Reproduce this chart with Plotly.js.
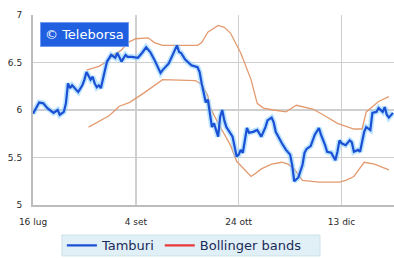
<!DOCTYPE html>
<html>
<head>
<meta charset="utf-8">
<script src="https://cdn.plot.ly/plotly-3.0.1.min.js"></script>
<style>html,body{margin:0;padding:0;background:#fff;}#chart{width:394px;height:258px;}</style>
</head>
<body>
<div id="chart"></div>
<script>
var tamburiDates = ['2018-07-16','2018-07-19','2018-07-21','2018-07-23','2018-07-26','2018-07-28','2018-07-29','2018-07-31','2018-08-01','2018-08-02','2018-08-03','2018-08-04','2018-08-07','2018-08-09','2018-08-10','2018-08-11','2018-08-13','2018-08-14','2018-08-15','2018-08-16','2018-08-17','2018-08-18','2018-08-20','2018-08-21','2018-08-23','2018-08-25','2018-08-26','2018-08-28','2018-08-30','2018-08-31','2018-09-02','2018-09-05','2018-09-07','2018-09-09','2018-09-11','2018-09-13','2018-09-16','2018-09-17','2018-09-20','2018-09-22','2018-09-24','2018-09-25','2018-09-26','2018-09-28','2018-09-29','2018-10-01','2018-10-04','2018-10-05','2018-10-06','2018-10-07','2018-10-08','2018-10-09','2018-10-10','2018-10-11','2018-10-12','2018-10-14','2018-10-15','2018-10-16','2018-10-17','2018-10-18','2018-10-21','2018-10-23','2018-10-24','2018-10-25','2018-10-26','2018-10-28','2018-10-29','2018-10-31','2018-11-02','2018-11-03','2018-11-04','2018-11-06','2018-11-07','2018-11-09','2018-11-10','2018-11-11','2018-11-13','2018-11-14','2018-11-16','2018-11-18','2018-11-19','2018-11-20','2018-11-22','2018-11-24','2018-11-25','2018-11-26','2018-11-28','2018-11-30','2018-12-02','2018-12-03','2018-12-05','2018-12-06','2018-12-08','2018-12-10','2018-12-11','2018-12-12','2018-12-13','2018-12-15','2018-12-17','2018-12-18','2018-12-19','2018-12-21','2018-12-22','2018-12-23','2018-12-24','2018-12-25','2018-12-27','2018-12-28','2018-12-30','2018-12-31','2019-01-02','2019-01-03','2019-01-04','2019-01-05','2019-01-07'];
var tamburiValues = [5.96,6.08,6.07,6.02,5.97,6.00,5.95,5.98,6.07,6.28,6.23,6.26,6.19,6.26,6.32,6.40,6.32,6.35,6.28,6.24,6.26,6.23,6.42,6.51,6.58,6.55,6.60,6.51,6.58,6.56,6.56,6.55,6.60,6.66,6.61,6.53,6.39,6.42,6.49,6.58,6.68,6.61,6.60,6.53,6.51,6.47,6.45,6.40,6.28,6.16,6.08,6.11,5.97,5.82,5.86,5.72,5.93,6.00,5.89,5.82,5.72,5.51,5.53,5.58,5.55,5.81,5.76,5.77,5.79,5.76,5.72,5.82,5.89,5.92,5.87,5.77,5.68,5.65,5.58,5.53,5.42,5.25,5.29,5.42,5.55,5.59,5.62,5.74,5.81,5.74,5.63,5.56,5.55,5.47,5.56,5.68,5.65,5.63,5.68,5.66,5.56,5.58,5.56,5.68,5.77,5.82,5.79,5.97,5.98,6.02,5.98,6.03,5.95,5.92,5.97];

var upperDates = ['2018-08-11','2018-08-17','2018-08-21','2018-08-24','2018-08-28','2018-08-31','2018-09-04','2018-09-10','2018-09-13','2018-09-17','2018-10-04','2018-10-06','2018-10-09','2018-10-14','2018-10-17','2018-10-20','2018-10-25','2018-10-30','2018-11-02','2018-11-05','2018-11-10','2018-11-16','2018-11-21','2018-11-29','2018-12-04','2018-12-11','2018-12-19','2018-12-23','2018-12-25','2018-12-31','2019-01-05'];
var upperValues = [6.42,6.46,6.51,6.58,6.63,6.71,6.75,6.76,6.71,6.68,6.68,6.71,6.82,6.89,6.87,6.81,6.60,6.32,6.07,6.02,6.00,5.98,6.05,6.01,5.95,5.86,5.80,5.80,5.98,6.09,6.14];

var lowerDates = ['2018-08-12','2018-08-22','2018-08-27','2018-09-01','2018-09-08','2018-09-13','2018-09-17','2018-10-03','2018-10-06','2018-10-09','2018-10-10','2018-10-14','2018-10-17','2018-10-20','2018-10-23','2018-10-27','2018-10-30','2018-11-01','2018-11-04','2018-11-09','2018-11-14','2018-11-17','2018-11-20','2018-11-24','2018-12-02','2018-12-12','2018-12-15','2018-12-19','2018-12-24','2018-12-29','2019-01-05'];
var lowerValues = [5.82,5.94,6.04,6.08,6.18,6.26,6.32,6.31,6.27,6.15,6.03,5.86,5.74,5.63,5.46,5.37,5.30,5.33,5.38,5.43,5.45,5.43,5.38,5.26,5.24,5.24,5.26,5.30,5.45,5.43,5.37];

var xTickVals = ['2018-07-16','2018-09-04','2018-10-24','2018-12-13'];
var xTickText = ['16 lug','4 set','24 ott','13 dic'];
var yTickVals = [5, 5.5, 6, 6.5, 7];
var yTickText = ['5','5.5','6','6.5','7'];

var bandColor = '#e39a6e';
var traces = [
  {x: upperDates, y: upperValues, type: 'scatter', mode: 'lines', line: {color: bandColor, width: 1.3}, showlegend: false, hoverinfo: 'skip'},
  {x: lowerDates, y: lowerValues, type: 'scatter', mode: 'lines', line: {color: bandColor, width: 1.3}, showlegend: false, hoverinfo: 'skip'},
  {x: tamburiDates, y: tamburiValues, type: 'scatter', mode: 'lines', line: {color: 'rgba(130,205,255,0.55)', width: 5.5}, showlegend: false, hoverinfo: 'skip'},
  {x: tamburiDates, y: tamburiValues, type: 'scatter', mode: 'lines', name: 'Tamburi', line: {color: '#1b4fd4', width: 2.2}},
  {x: [null], y: [null], type: 'scatter', mode: 'lines', name: 'Bollinger bands', line: {color: '#e8393a', width: 2.2}}
];

var layout = {
  width: 394, height: 258,
  margin: {l: 33, r: 0, t: 15, b: 53, autoexpand: false},
  paper_bgcolor: '#ffffff', plot_bgcolor: '#ffffff',
  font: {family: 'DejaVu Sans, Verdana, sans-serif', size: 9, color: '#333'},
  xaxis: {
    type: 'date', range: ['2018-07-16', '2019-01-07 12:00'],
    tickvals: xTickVals, ticktext: xTickText,
    showgrid: true, gridcolor: '#cfcfcf', gridwidth: 1.5,
    showline: true, linecolor: '#bdbdbd', linewidth: 2, mirror: false,
    zeroline: false, ticks: 'outside', ticklen: 7, tickcolor: 'rgba(0,0,0,0)',
    tickfont: {size: 9, color: '#2a2a2a'}
  },
  yaxis: {
    range: [5, 7], tickvals: yTickVals, ticktext: yTickText,
    showgrid: true, gridcolor: '#cfcfcf', gridwidth: 1.5,
    showline: true, linecolor: '#bdbdbd', linewidth: 2,
    zeroline: false, ticks: 'outside', ticklen: 7, tickcolor: 'rgba(0,0,0,0)',
    tickfont: {size: 9, color: '#2a2a2a'}
  },
  shapes: [{
    type: 'rect', xref: 'paper', yref: 'paper', layer: 'below',
    x0: 0.080, x1: 0.795, y0: -0.268, y1: -0.158,
    fillcolor: '#e1f0f6', line: {color: '#cde2ea', width: 1}
  }],
  legend: {
    orientation: 'h', x: 0.08, xanchor: 'left', y: -0.213, yanchor: 'middle',
    bgcolor: 'rgba(0,0,0,0)', borderwidth: 0,
    font: {family: 'DejaVu Sans, Verdana, sans-serif', size: 13, color: '#1a2a5a'},
    itemwidth: 30, tracegroupgap: 0
  },
  annotations: [{
    xref: 'paper', yref: 'paper', x: 0.02, y: 0.965, xanchor: 'left', yanchor: 'top',
    text: '© Teleborsa', showarrow: false,
    font: {family: 'DejaVu Sans, Verdana, sans-serif', size: 13, color: '#ffffff'},
    bgcolor: '#1f5fe0', bordercolor: '#6f9af0', borderwidth: 1, borderpad: 4
  }]
};

Plotly.newPlot('chart', traces, layout, {displayModeBar: false, staticPlot: true});
</script>
</body>
</html>
